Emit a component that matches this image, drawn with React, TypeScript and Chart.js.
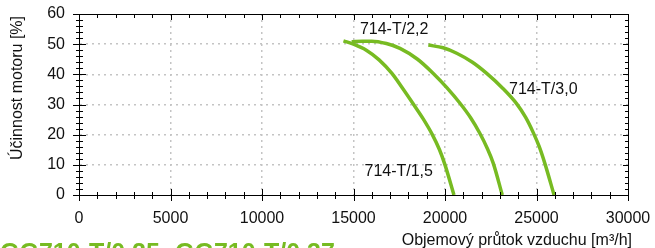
import React, { useEffect, useRef } from 'react';
import { Chart, registerables } from 'chart.js';

Chart.register(...registerables);

// Data (flow m3/h vs motor efficiency %)
const flow15 = [14450, 15000, 15700, 16400, 17100, 17700, 18250, 18800, 19300, 19700, 20000, 20490];
const eff15 = [51.1, 50.0, 48.0, 44.8, 40.3, 35.2, 30.3, 25.3, 20.1, 15.0, 10.0, 0];
const flow22 = [14900, 15500, 16000, 16800, 17540, 18500, 19360, 20100, 20820, 21400, 21910, 22300, 22640, 23130];
const eff22 = [50.8, 51.0, 51.0, 50.2, 48.6, 45.0, 40.3, 35.6, 30.4, 25.6, 20.4, 15.6, 10.5, 0];
const flow30 = [19090, 19900, 20640, 21500, 22280, 23150, 23920, 24400, 24830, 25150, 25460, 25960];
const eff30 = [49.7, 48.8, 47.0, 44.0, 40.3, 35.4, 30.2, 25.8, 20.6, 16.0, 10.4, 0];

const seriesNames = ['714-T/1,5', '714-T/2,2', '714-T/3,0'];
// label anchors (left edge, vertical centre) in data units
const labelFlow = [15600, 15350, 23500];
const labelEff = [7.7, 54.7, 35.1];

const xTicks = [0, 5000, 10000, 15000, 20000, 25000, 30000];
const yTicks = [0, 10, 20, 30, 40, 50, 60];

const xTitle = 'Objemový průtok vzduchu [m³/h]';
const yTitle = 'Účinnost motoru [%]';
const bottomTitle = 'GG710-T/0,25; GG710-T/0,37';

const GREEN = '#77bb22';
const GRID = '#c4c4c4';
const FONT = '"Liberation Sans", Arial, sans-serif';

const toPts = (xs: number[], ys: number[]) => xs.map((x, i) => ({ x, y: ys[i] }));

const gridColor = (c: any) => {
  const v = c.tick ? c.tick.value : 0;
  return v === 0 || v === 30000 || v === 60 ? 'rgba(0,0,0,0)' : GRID;
};

const drawFrame = (chart: any) => {
  const ctx = chart.ctx;
  const a = chart.chartArea;
  const xs = chart.scales.x;
  const ys = chart.scales.y;
  ctx.save();
  ctx.fillStyle = '#000';
  const L = Math.round(a.left);
  const R = Math.round(a.right);
  const T = Math.round(a.top);
  const B = Math.round(a.bottom);
  ctx.fillRect(L, T, R - L + 1, 1);
  ctx.fillRect(L, B, R - L + 1, 1);
  ctx.fillRect(L, T, 1, B - T + 1);
  ctx.fillRect(R, T, 1, B - T + 1);
  for (let v = 0; v <= 30000; v += 1000) {
    const major = v % 5000 === 0;
    const px = Math.round(xs.getPixelForValue(v));
    const up = major ? 6 : 3;
    const dn = major ? 5 : 3;
    ctx.fillRect(px, B - up, 1, up + dn + 1);
    ctx.fillRect(px, T, 1, major ? 6 : 4);
  }
  for (let v = 0; v <= 60; v += 2) {
    const major = v % 10 === 0;
    const py = Math.round(ys.getPixelForValue(v));
    const h = major ? 6 : 3;
    ctx.fillRect(L - h, py, 2 * h + 1, 1);
    ctx.fillRect(R - (major ? 5 : 3), py, major ? 5 : 3, 1);
  }
  ctx.restore();
};

const decorPlugin = {
  id: 'frameTicks',
  afterDatasetsDraw(chart: any) {
    drawFrame(chart);
  },
  afterDraw(chart: any) {
    const ctx = chart.ctx;
    const xs = chart.scales.x;
    const ys = chart.scales.y;
    drawFrame(chart);
    ctx.save();
    // curve labels
    ctx.fillStyle = '#111';
    ctx.font = `16px ${FONT}`;
    ctx.textAlign = 'left';
    ctx.textBaseline = 'middle';
    seriesNames.forEach((n, i) => {
      ctx.fillText(n, xs.getPixelForValue(labelFlow[i]), ys.getPixelForValue(labelEff[i]));
    });

    // axis titles
    ctx.textAlign = 'right';
    ctx.textBaseline = 'alphabetic';
    ctx.fillText(xTitle, 632, 245);
    ctx.save();
    ctx.translate(18, 88);
    ctx.rotate(-Math.PI / 2);
    ctx.textAlign = 'center';
    ctx.textBaseline = 'middle';
    ctx.fillText(yTitle, 0, 0);
    ctx.restore();

    // bottom (clipped) green title
    ctx.fillStyle = GREEN;
    ctx.font = `bold 25px ${FONT}`;
    ctx.textAlign = 'left';
    ctx.textBaseline = 'alphabetic';
    ctx.fillText(bottomTitle, 0, 261);
    ctx.restore();
  },
};

export default function App() {
  const ref = useRef<HTMLCanvasElement | null>(null);
  useEffect(() => {
    document.body.style.margin = '0';
    const mk = (xs: number[], ysv: number[], name: string) => ({
      label: name,
      data: toPts(xs, ysv),
      showLine: true,
      borderColor: GREEN,
      backgroundColor: GREEN,
      borderWidth: 3.5,
      pointRadius: 0,
      cubicInterpolationMode: 'monotone' as const,
      fill: false,
    });
    const chart = new Chart(ref.current as HTMLCanvasElement, {
      type: 'scatter',
      data: {
        datasets: [
          mk(flow15, eff15, seriesNames[0]),
          mk(flow22, eff22, seriesNames[1]),
          mk(flow30, eff30, seriesNames[2]),
        ],
      },
      options: {
        responsive: false,
        animation: false,
        layout: { padding: { top: 14, right: 27, left: 0, bottom: 0 } },
        plugins: { legend: { display: false }, tooltip: { enabled: false } },
        scales: {
          x: {
            type: 'linear',
            min: 0,
            max: 30000,
            afterFit: (s: any) => { s.height = 53; s.paddingLeft = 0; s.paddingRight = 0; },
            afterBuildTicks: (s: any) => { s.ticks = xTicks.map((v) => ({ value: v })); },
            grid: { display: true, drawTicks: false, color: gridColor, lineWidth: 1.5 },
            border: { display: true, color: '#000', width: 1, dash: [2, 4] },
            ticks: {
              color: '#111',
              padding: 14,
              maxRotation: 0,
              font: { size: 16, family: FONT },
              callback: (v: any) => String(v),
            },
          },
          y: {
            type: 'linear',
            min: 0,
            max: 60,
            afterFit: (s: any) => { s.width = 79; s.paddingTop = 0; s.paddingBottom = 0; },
            afterBuildTicks: (s: any) => { s.ticks = yTicks.map((v) => ({ value: v })); },
            grid: { display: true, drawTicks: false, color: gridColor, lineWidth: 1.5 },
            border: { display: true, color: '#000', width: 1, dash: [2, 4] },
            ticks: {
              color: '#111',
              padding: 14,
              font: { size: 16, family: FONT },
              callback: (v: any) => String(v),
            },
          },
        },
      },
      plugins: [decorPlugin],
    });
    return () => chart.destroy();
  }, []);
  return (
    <div style={{ position: 'fixed', left: 0, top: 0, width: 655, height: 248, background: '#fff' }}>
      <canvas ref={ref} width={655} height={248} style={{ display: 'block' }} />
    </div>
  );
}
